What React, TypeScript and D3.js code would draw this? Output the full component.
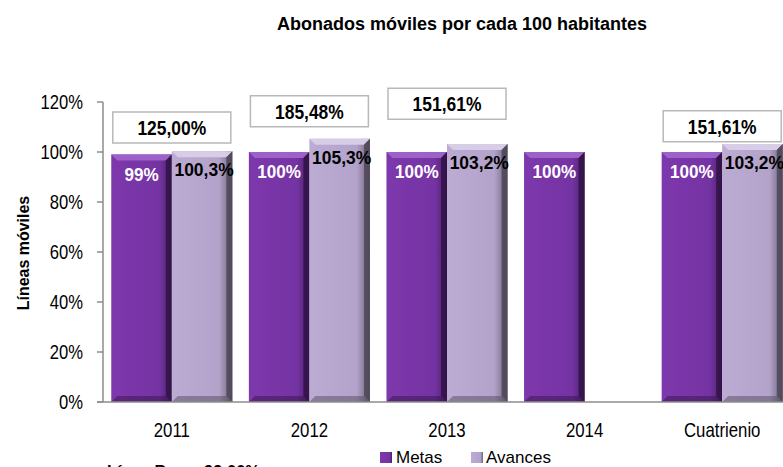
import React from 'react';
import * as d3 from 'd3';

const categories = ['2011', '2012', '2013', '2014', 'Cuatrienio'];
const metas = [99, 100, 100, 100, 100];
const avances: (number | null)[] = [100.3, 105.3, 103.2, null, 103.2];
const metasLabels = ['99%', '100%', '100%', '100%', '100%'];
const avancesLabels = ['100,3%', '105,3%', '103,2%', '', '103,2%'];
// summary boxes above each group, with the level (in %) of the box top
const boxLabels = ['125,00%', '185,48%', '151,61%', '', '151,61%'];
const boxLevels = [116, 122.5, 125.5, null, 116.5];
const yTicks = [0, 20, 40, 60, 80, 100, 120];
const series = ['Metas', 'Avances'];

const W = 783, H = 467;
const FONT = "'Liberation Sans', Arial, sans-serif";

// text squeezed horizontally, to get the narrow look of the original
function T({x, y, sx = 1, rotate = 0, children, ...rest}: any) {
    return (
        <text transform={`translate(${x},${y}) rotate(${rotate}) scale(${sx},1)`} {...rest}>{children}</text>
    );
}

export default function App() {
    const x = d3.scaleBand<string>().domain(categories).range([103, 791]).paddingInner(0.12).paddingOuter(0.06);
    const xs = d3.scaleBand<string>().domain(series).range([0, x.bandwidth()]).padding(0);
    const y = d3.scaleLinear().domain([0, 120]).range([402, 102]);
    const bw = xs.bandwidth();

    const bar = (key: string, cx: number, v: number, base: string, light: string, dark: string) => {
        const top = y(v);
        const bottom = y(0);
        const b = 6;
        return (
            <g key={key}>
                <rect x={cx} y={top} width={bw} height={bottom - top} fill={`url(#grad-${base})`}/>
                <polygon points={`${cx},${top} ${cx + bw},${top} ${cx + bw - b},${top + b} ${cx + b},${top + b}`} fill={light}/>
                <polygon points={`${cx + bw},${top} ${cx + bw},${bottom} ${cx + bw - b},${bottom - b} ${cx + bw - b},${top + b}`} fill={dark} opacity={0.8}/>
                <polygon points={`${cx},${bottom} ${cx + bw},${bottom} ${cx + bw - b},${bottom - b} ${cx + b},${bottom - b}`} fill={dark} opacity={0.45}/>
            </g>
        );
    };

    return (
        <svg width={W} height={H} style={{position: 'absolute', left: 0, top: 0, background: '#fff'}} fontFamily={FONT}>
            <defs>
                <linearGradient id="grad-m" x1="0" x2="1" y1="0" y2="0">
                    <stop offset="0" stopColor="#7e38ad"/>
                    <stop offset="0.8" stopColor="#7433a2"/>
                    <stop offset="1" stopColor="#4a2068"/>
                </linearGradient>
                <linearGradient id="grad-a" x1="0" x2="1" y1="0" y2="0">
                    <stop offset="0" stopColor="#bcabd3"/>
                    <stop offset="0.78" stopColor="#b3a2ca"/>
                    <stop offset="1" stopColor="#6f6579"/>
                </linearGradient>
            </defs>

            <text x={462} y={30} textAnchor="middle" fontWeight="bold" fontSize={18}>
                Abonados móviles por cada 100 habitantes
            </text>

            {/* y axis */}
            <line x1={103} x2={103} y1={102} y2={402} stroke="#8c8c8c" strokeWidth={1.5}/>
            {yTicks.map(t => (
                <g key={t}>
                    <line x1={97} x2={103} y1={y(t)} y2={y(t)} stroke="#8c8c8c" strokeWidth={1.5}/>
                    <T x={83} y={y(t)} sx={0.83} dy="0.36em" textAnchor="end" fontSize={20}>{t}%</T>
                </g>
            ))}
            <T x={23} y={253} rotate={-90} sx={0.94} textAnchor="middle" dy="0.35em" fontWeight="bold" fontSize={17}>
                Líneas móviles
            </T>

            {/* bars */}
            {categories.map((c, i) => {
                const x0 = x(c) as number;
                const xm = x0 + (xs('Metas') as number);
                const xa = x0 + (xs('Avances') as number);
                return (
                    <g key={c}>
                        {bar(c + 'm', xm, metas[i], 'm', '#9c62c8', '#2e1242')}
                        {avances[i] != null && bar(c + 'a', xa, avances[i] as number, 'a', '#d8cde6', '#4a4252')}
                    </g>
                );
            })}

            {/* x axis */}
            <line x1={97} x2={W} y1={402} y2={402} stroke="#8c8c8c" strokeWidth={1.5}/>
            {categories.map(c => (
                <T key={c} x={(x(c) as number) + x.bandwidth() / 2} y={437} sx={0.84} textAnchor="middle" fontSize={20}>{c}</T>
            ))}

            {/* value labels */}
            {categories.map((c, i) => {
                const x0 = x(c) as number;
                const xm = x0 + (xs('Metas') as number) + bw / 2;
                const xa = x0 + (xs('Avances') as number) + bw / 2;
                return (
                    <g key={c} fontWeight="bold" fontSize={19} textAnchor="middle">
                        <T x={xm} y={y(metas[i]) + 26} sx={0.9} fill="#fff">{metasLabels[i]}</T>
                        {avances[i] != null &&
                            <T x={xa + 2} y={y(avances[i] as number) + 25} sx={0.92} fill="#000">{avancesLabels[i]}</T>}
                    </g>
                );
            })}

            {/* summary boxes */}
            {categories.map((c, i) => {
                if (boxLevels[i] == null) return null;
                const cx = (x(c) as number) + x.bandwidth() / 2;
                const top = y(boxLevels[i] as number);
                return (
                    <g key={c}>
                        <rect x={cx - 59} y={top} width={118} height={31} fill="#fff" stroke="#b8b8b8" strokeWidth={1.5}/>
                        <T x={cx} y={top + 15.5} sx={0.83} dy="0.36em" textAnchor="middle" fontWeight="bold" fontSize={21}>{boxLabels[i]}</T>
                    </g>
                );
            })}

            {/* legend */}
            <rect x={380} y={452} width={12} height={11} fill="url(#grad-m)"/>
            <text x={396} y={463} fontSize={17}>Metas</text>
            <rect x={471} y={452} width={12} height={11} fill="url(#grad-a)"/>
            <text x={486} y={463} fontSize={17}>Avances</text>

            <T x={107} y={477} sx={0.97} fontWeight="bold" fontSize={17}>Línea Base: 99,00%</T>
        </svg>
    );
}
